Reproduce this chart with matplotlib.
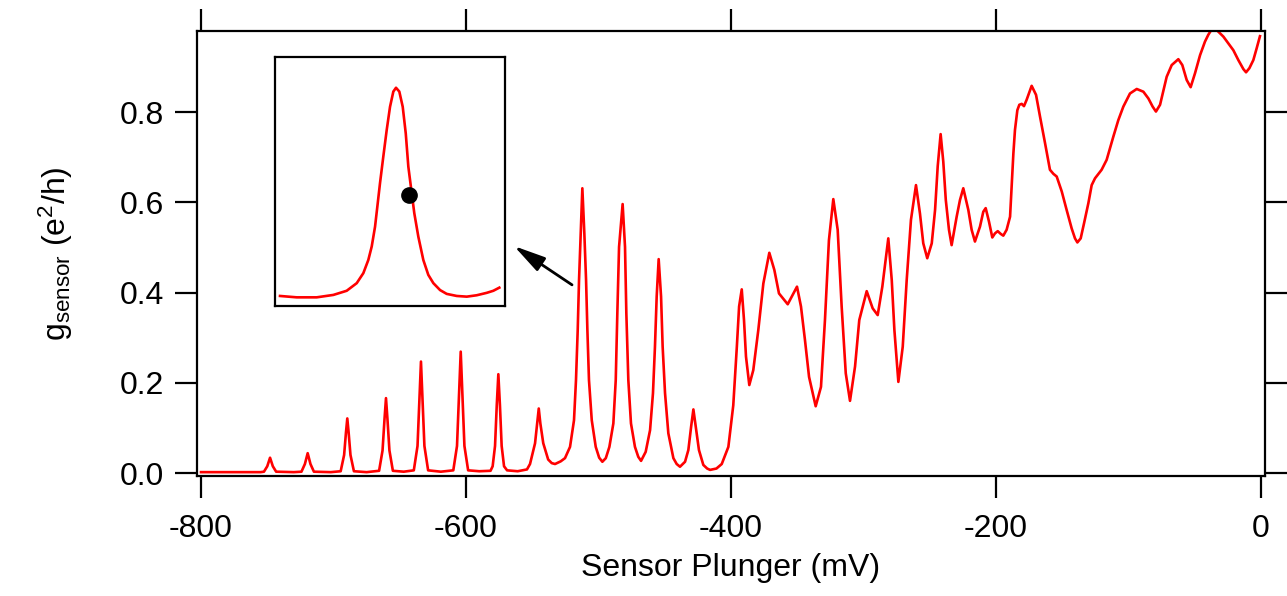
import matplotlib
matplotlib.use("Agg")
import matplotlib.pyplot as plt

plt.rcParams['font.family'] = ['Liberation Sans', 'DejaVu Sans']
plt.rcParams['mathtext.fontset'] = 'custom'
plt.rcParams['mathtext.rm'] = 'Liberation Sans'
plt.rcParams['mathtext.it'] = 'Liberation Sans'

# ===================== traced sensor trace (mV, e^2/h) =====================
plunger_mv = [
    -800, -790, -770, -755,
    -752.5, -750.0, -747.9, -745.8, -743.3, -730,
    -724.2, -721.6, -719.5, -717.4, -714.8, -702,
    -694.6, -692.0, -690.6, -689.6, -688.6, -687.2, -684.6, -675,
    -665.6, -663.0, -661.5, -660.4, -659.3, -657.8, -655.2, -647,
    -639.4, -636.6, -635.2, -634.0, -632.8, -631.4, -628.6, -619,
    -609.6, -606.8, -605.3, -604.0, -602.7, -601.2, -598.4, -590,
    -581.5, -579.9, -578.1, -576.8, -575.6, -574.4, -573.1, -571.3, -569, -561,
    -554, -551.7, -547.9, -546.3, -545.1, -543.9, -541.7, -538, -535.3,
    -532.8, -528.5, -525.3, -521.5, -518.5, -517.0, -515.7, -514.7, -513.4, -512.2,
    -510.7, -509.4, -508.4, -507.2, -505.1, -502.1, -499.5, -497.1,
    -494.5, -491.8, -488.8, -487.0, -485.8, -484.5, -481.8,
    -480.0, -479.0, -477.5, -475.5, -472.5, -470.0, -467.9,
    -464.4, -461.1, -458.9, -457.4, -456.1, -454.6,
    -452.8, -451.6, -449.8, -447.3, -443.5, -441.0, -438.5,
    -434.7, -432.2, -430.1, -428.4, -426.6, -424.2, -420.9, -418.0, -415.8,
    -411.0, -407.0, -402.0, -398.3, -395.6, -393.9, -391.9,
    -390.2, -388.7, -386.2, -383.2, -379.4, -375.6, -371.1,
    -367.3, -363.8, -357.2, -350.2, -347.2, -344.2, -341.1, -336.1,
    -332.1, -329.1, -326.1, -322.8, -319.5, -316.5, -313.4, -310.2,
    -306.4, -303.2, -297.6, -293.1, -289.3, -285.8, -281.3,
    -278.7, -276.7, -273.7, -270.4, -267.4, -264.2, -260.4,
    -257.4, -254.9, -251.9, -248.5, -246.0, -244.0, -241.8, -239.8, -237.9,
    -235.5, -233.5, -229.7, -227.2, -224.7, -220.9, -218.4, -215.9,
    -212.1, -209.6, -207.8, -205.3, -202.8, -200.8, -198.7, -196.5, -194.5,
    -192.0, -189.4, -188.2, -186.9, -185.7, -183.9, -182.4, -180.6, -178.9,
    -176.9, -173.1, -169.8, -166.8, -163.0, -159.3, -156.7, -154.2,
    -150.4, -146.7, -142.9, -140.4, -138.6, -136.1, -133.6, -130.3, -127.8,
    -125.3, -120.3, -116.5, -111.5, -107.7, -103.9, -98.9, -93.8,
    -88.8, -85.0, -81.8, -79.3, -76.2, -71.2, -67.4, -62.4,
    -59.4, -56.1, -53.1, -49.8, -46.0, -42.3, -39.8, -36.0,
    -32.2, -28.4, -24.7, -20.9, -17.1, -13.3, -11.3, -8.8, -5.8, -3.3, -0.8,
]
g_sensor = [
    0.002, 0.002, 0.002, 0.002,
    0.003, 0.015, 0.034, 0.015, 0.003, 0.002,
    0.003, 0.020, 0.044, 0.020, 0.003, 0.002,
    0.004, 0.040, 0.090, 0.121, 0.090, 0.040, 0.004, 0.002,
    0.005, 0.050, 0.120, 0.166, 0.120, 0.050, 0.005, 0.003,
    0.006, 0.060, 0.160, 0.247, 0.160, 0.060, 0.006, 0.003,
    0.006, 0.060, 0.170, 0.269, 0.170, 0.060, 0.006, 0.004,
    0.005, 0.015, 0.060, 0.150, 0.219, 0.150, 0.060, 0.015, 0.006, 0.004,
    0.008, 0.020, 0.066, 0.110, 0.143, 0.110, 0.066, 0.030, 0.022,
    0.020, 0.026, 0.033, 0.058, 0.117, 0.206, 0.317, 0.428, 0.531, 0.631,
    0.531, 0.428, 0.317, 0.206, 0.117, 0.058, 0.034, 0.025,
    0.033, 0.058, 0.110, 0.206, 0.354, 0.501, 0.596,
    0.501, 0.354, 0.206, 0.110, 0.058, 0.036, 0.027,
    0.047, 0.095, 0.177, 0.280, 0.391, 0.474,
    0.391, 0.280, 0.177, 0.088, 0.033, 0.020, 0.014,
    0.025, 0.051, 0.103, 0.141, 0.103, 0.051, 0.018, 0.010, 0.007,
    0.010, 0.020, 0.058, 0.150, 0.280, 0.369, 0.407,
    0.339, 0.258, 0.195, 0.228, 0.317, 0.420, 0.488,
    0.450, 0.398, 0.374, 0.413, 0.369, 0.295, 0.213, 0.148,
    0.191, 0.339, 0.516, 0.607, 0.539, 0.369, 0.221, 0.160,
    0.236, 0.339, 0.403, 0.365, 0.350, 0.413, 0.520,
    0.428, 0.317, 0.202, 0.280, 0.428, 0.561, 0.638,
    0.575, 0.509, 0.476, 0.509, 0.583, 0.680, 0.751, 0.690, 0.605,
    0.539, 0.505, 0.568, 0.605, 0.631, 0.583, 0.539, 0.513,
    0.546, 0.579, 0.587, 0.557, 0.522, 0.531, 0.536, 0.530, 0.526,
    0.539, 0.568, 0.635, 0.708, 0.760, 0.804, 0.816, 0.818, 0.813,
    0.827, 0.858, 0.838, 0.790, 0.731, 0.672, 0.663, 0.657,
    0.624, 0.583, 0.542, 0.520, 0.511, 0.520, 0.553, 0.598, 0.638,
    0.653, 0.672, 0.694, 0.745, 0.782, 0.812, 0.841, 0.851,
    0.845, 0.830, 0.812, 0.801, 0.816, 0.878, 0.904, 0.917,
    0.904, 0.871, 0.855, 0.886, 0.926, 0.956, 0.971, 0.989,
    0.978, 0.967, 0.952, 0.937, 0.915, 0.895, 0.888, 0.897, 0.915, 0.941, 0.968,
]

# inset: close-up of the peak near -512 mV and the operating point
inset_mv = [
    -524.46, -522.64, -520.47, -518.66, -517.21, -516.12, -515.40, -514.86,
    -514.49, -514.13, -513.88, -513.59, -513.23, -512.86, -512.50, -512.14,
    -511.85, -511.49, -511.12, -510.79, -510.51, -510.14, -509.86, -509.42,
    -508.88, -508.34, -507.79, -507.06, -506.34, -505.25, -504.16, -503.08,
    -501.99, -501.27, -500.62,
]
inset_g = [
    0.029, 0.025, 0.025, 0.032, 0.044, 0.066, 0.095, 0.133,
    0.172, 0.229, 0.287, 0.355, 0.432, 0.509, 0.576, 0.620,
    0.631, 0.620, 0.576, 0.499, 0.403, 0.326, 0.268, 0.200,
    0.133, 0.090, 0.066, 0.046, 0.035, 0.029, 0.027, 0.031,
    0.038, 0.044, 0.053,
]
op_point_mv = [-510.43]
op_point_g = [0.321]

x_ticks = [-800, -600, -400, -200, 0]
y_ticks = [0.0, 0.2, 0.4, 0.6, 0.8]

# ===================== main plot =====================
fig = plt.figure(figsize=(12.87, 5.96), dpi=100)
ax = fig.add_axes([0.1531, 0.2013, 0.8298, 0.7467])
ax.plot(plunger_mv, g_sensor, color='#ff0000', lw=1.9)

ax.set_xlim(-803, 3)
ax.set_ylim(-0.0066, 0.9795)
ax.set_xticks(x_ticks)
ax.set_yticks(y_ticks)
ax.set_xticklabels(['%d' % t for t in x_ticks])
ax.set_yticklabels(['%.1f' % t for t in y_ticks])
ax.tick_params(axis='both', direction='out', length=16, width=1.6,
               labelsize=23, top=True, right=True, colors='black')
ax.tick_params(axis='x', pad=11)
ax.tick_params(axis='y', pad=8)
for sp in ax.spines.values():
    sp.set_linewidth(1.6)

ax.set_xlabel('Sensor Plunger (mV)', fontsize=23, labelpad=7)
ax.set_ylabel(r'$\mathrm{g_{sensor}}$ (e$^{\mathrm{2}}$/h)', fontsize=23, labelpad=32)

# arrow pointing to the inset
ax.annotate('', xy=(-563.8, 0.503), xytext=(-520.0, 0.417),
            arrowprops=dict(arrowstyle='-|>,head_length=0.6,head_width=0.15',
                            mutation_scale=32, color='black', lw=2,
                            shrinkA=0, shrinkB=0))

# ===================== inset =====================
ins = fig.add_axes([0.2137, 0.4866, 0.1787, 0.4178])
ins.plot(inset_mv, inset_g, color='#ff0000', lw=1.9)
ins.plot(op_point_mv, op_point_g, 'o', color='black', ms=11)
ins.set_xlim(-525, -500)
ins.set_ylim(0, 0.72)
ins.set_xticks([])
ins.set_yticks([])
for sp in ins.spines.values():
    sp.set_linewidth(1.6)

fig.savefig('out.png', dpi=100)
